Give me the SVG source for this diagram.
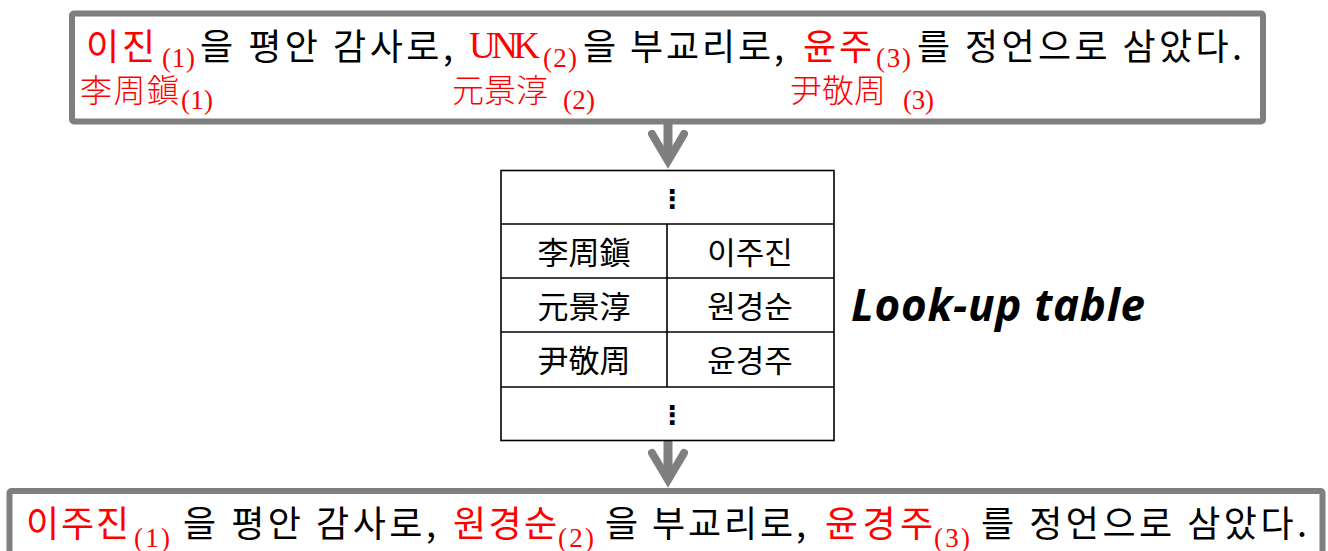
<svg xmlns="http://www.w3.org/2000/svg" width="1328" height="551" viewBox="0 0 1328 551">
  <style>
    .box { fill: #ffffff; stroke: #7f7f7f; stroke-width: 6; }
    .kr { font-family: "Noto Sans CJK KR", "Noto Sans", sans-serif; font-size: 36px; fill: #000000; }
    .red { fill: #ff0000; }
    .hanja { font-family: "Noto Sans CJK KR", "Noto Sans", sans-serif; font-size: 32px; font-weight: 300; fill: #ff0000; }
    .sub { font-family: "Liberation Serif", "DejaVu Serif", serif; font-size: 27px; fill: #ff0000; }
    .unk { font-family: "Liberation Serif", "DejaVu Serif", serif; font-size: 37px; fill: #ff0000; }
    .cell { font-family: "Noto Sans CJK KR", "Noto Sans", sans-serif; font-size: 31px; fill: #000000; text-anchor: middle; }
    .tbl { fill: #ffffff; stroke: #000000; stroke-width: 1.6; }
    .grid { stroke: #000000; stroke-width: 1.6; fill: none; }
    .dots { font-family: "DejaVu Sans", sans-serif; font-size: 26px; font-weight: bold; fill: #000000; text-anchor: middle; }
    .label { font-family: "Open Sans", "Liberation Sans", sans-serif; font-size: 44px; font-weight: bold; font-style: italic; fill: #000000; }
    .conn { stroke: #7f7f7f; stroke-width: 9; fill: none; marker-end: url(#chev); }
  </style>
  <defs>
    <marker id="chev" markerUnits="userSpaceOnUse" viewBox="-40 -25 55 50" markerWidth="55" markerHeight="50" refX="0" refY="0" orient="auto">
      <path d="M-27,-16 L0,0 L-27,16" fill="none" stroke="#7f7f7f" stroke-width="8" stroke-linejoin="miter" stroke-linecap="round"/>
    </marker>
  </defs>

  <g id="connectors">
    <line class="conn" x1="668" y1="124" x2="668" y2="161"/>
    <line class="conn" x1="668" y1="441" x2="668" y2="480"/>
  </g>

  <g id="top-sentence">
    <rect class="box" x="72" y="13.5" width="1191" height="108" rx="2"/>
    <text class="kr red" x="86" y="60" textLength="69">이진</text>
    <text class="sub" x="162" y="67" textLength="33">(1)</text>
    <text class="kr" x="200" y="60" textLength="253">을 평안 감사로,</text>
    <text class="unk" x="469" y="58" textLength="71">UNK</text>
    <text class="sub" x="543" y="67" textLength="34">(2)</text>
    <text class="kr" x="583" y="60" textLength="201">을 부교리로,</text>
    <text class="kr red" x="803" y="60" textLength="69">윤주</text>
    <text class="sub" x="876" y="67" textLength="35">(3)</text>
    <text class="kr" x="917" y="60" textLength="325">를 정언으로 삼았다.</text>
    <text class="hanja" x="80" y="102" textLength="99">李周鎭</text>
    <text class="sub" x="181" y="109" textLength="32">(1)</text>
    <text class="hanja" x="452" y="102" textLength="96">元景淳</text>
    <text class="sub" x="563" y="109" textLength="32">(2)</text>
    <text class="hanja" x="790" y="102" textLength="96">尹敬周</text>
    <text class="sub" x="903" y="109" textLength="31">(3)</text>
  </g>

  <g id="lookup-table">
    <rect class="tbl" x="501" y="170.5" width="333" height="270"/>
    <line class="grid" x1="501" y1="224" x2="834" y2="224"/>
    <line class="grid" x1="501" y1="278" x2="834" y2="278"/>
    <line class="grid" x1="501" y1="332" x2="834" y2="332"/>
    <line class="grid" x1="501" y1="387" x2="834" y2="387"/>
    <line class="grid" x1="667" y1="224" x2="667" y2="387"/>
    <text class="dots" x="672" y="208">⋮</text>
    <text class="cell" x="584" y="264">李周鎭</text>
    <text class="cell" x="750" y="264">이주진</text>
    <text class="cell" x="584" y="318">元景淳</text>
    <text class="cell" x="750" y="318">원경순</text>
    <text class="cell" x="584" y="372">尹敬周</text>
    <text class="cell" x="750" y="372">윤경주</text>
    <text class="dots" x="672" y="424">⋮</text>
  </g>

  <g id="look-up-label">
    <text class="label" x="851" y="321" textLength="294">Look-up table</text>
  </g>

  <g id="bottom-sentence">
    <rect class="box" x="9.5" y="491" width="1313" height="80" rx="2"/>
    <text class="kr red" x="26" y="537" textLength="103">이주진</text>
    <text class="sub" x="134" y="547" textLength="36">(1)</text>
    <text class="kr" x="183" y="537" textLength="253">을 평안 감사로,</text>
    <text class="kr red" x="453" y="537" textLength="104">원경순</text>
    <text class="sub" x="558" y="547" textLength="36">(2)</text>
    <text class="kr" x="605" y="537" textLength="201">을 부교리로,</text>
    <text class="kr red" x="825" y="537" textLength="108">윤경주</text>
    <text class="sub" x="934" y="547" textLength="36">(3)</text>
    <text class="kr" x="981" y="537" textLength="326">를 정언으로 삼았다.</text>
  </g>
</svg>
